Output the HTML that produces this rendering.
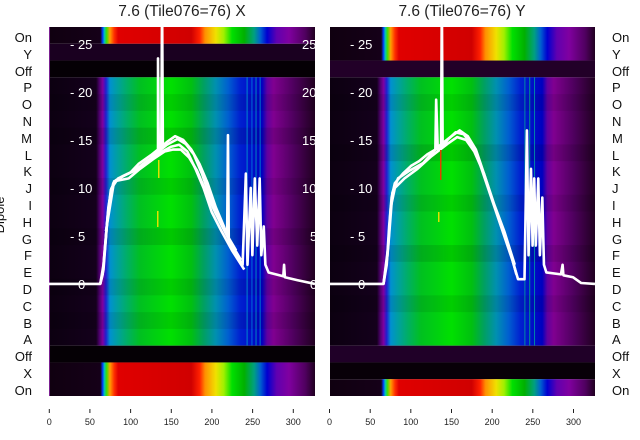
<!DOCTYPE html>
<html><head><meta charset="utf-8"><style>
html,body{margin:0;padding:0;background:#fff;width:640px;height:440px;overflow:hidden;font-family:"Liberation Sans","DejaVu Sans",sans-serif}
</style></head><body>
<svg width="640" height="440" viewBox="0 0 640 440" xmlns="http://www.w3.org/2000/svg" style="position:absolute;left:0;top:0">
<defs>
<linearGradient id="gL" x1="0" x2="327" y1="0" y2="0" gradientUnits="userSpaceOnUse">
<stop offset="0" stop-color="#0c0010"/><stop offset="0.177" stop-color="#14001c"/><stop offset="0.190" stop-color="#500070"/><stop offset="0.202" stop-color="#8000a0"/><stop offset="0.214" stop-color="#2020d0"/><stop offset="0.229" stop-color="#0090d0"/><stop offset="0.257" stop-color="#00a0a0"/><stop offset="0.297" stop-color="#00b060"/><stop offset="0.343" stop-color="#00c020"/><stop offset="0.459" stop-color="#00e000"/><stop offset="0.535" stop-color="#00c010"/><stop offset="0.581" stop-color="#00a060"/><stop offset="0.627" stop-color="#0090b0"/><stop offset="0.673" stop-color="#0060d0"/><stop offset="0.719" stop-color="#0020d0"/><stop offset="0.801" stop-color="#0000c0"/><stop offset="0.820" stop-color="#6000a0"/><stop offset="0.844" stop-color="#800090"/><stop offset="0.917" stop-color="#500060"/><stop offset="1" stop-color="#200020"/>
</linearGradient>
<linearGradient id="rL" x1="0" x2="327" y1="0" y2="0" gradientUnits="userSpaceOnUse">
<stop offset="0" stop-color="#100010"/><stop offset="0.193" stop-color="#150018"/><stop offset="0.202" stop-color="#0040ff"/><stop offset="0.208" stop-color="#00c0c0"/><stop offset="0.217" stop-color="#40e000"/><stop offset="0.229" stop-color="#ffa000"/><stop offset="0.245" stop-color="#ff3000"/><stop offset="0.260" stop-color="#e00000"/><stop offset="0.535" stop-color="#d00000"/><stop offset="0.566" stop-color="#ff2000"/><stop offset="0.587" stop-color="#ff9000"/><stop offset="0.627" stop-color="#f0e000"/><stop offset="0.657" stop-color="#a0f000"/><stop offset="0.688" stop-color="#00e000"/><stop offset="0.734" stop-color="#00b000"/><stop offset="0.771" stop-color="#00a080"/><stop offset="0.795" stop-color="#0060d0"/><stop offset="0.820" stop-color="#0000d0"/><stop offset="0.856" stop-color="#6000b0"/><stop offset="0.902" stop-color="#8000a0"/><stop offset="0.963" stop-color="#500060"/><stop offset="1" stop-color="#200020"/>
</linearGradient>
</defs>

<text x="182" y="16" font-size="15.5" text-anchor="middle" fill="#222">7.6 (Tile076=76) X</text>
<text x="462" y="16" font-size="15.5" text-anchor="middle" fill="#222">7.6 (Tile076=76) Y</text>

<svg x="49" y="27" width="266" height="369" viewBox="0 0 327 22" preserveAspectRatio="none">
<rect x="0" y="0" width="327" height="1" fill="url(#rL)"/>
<rect x="0" y="1" width="327" height="1" fill="#1a0020"/>
<rect x="0" y="2" width="327" height="1" fill="#050005"/>
<rect x="0" y="3" width="327" height="16" fill="url(#gL)"/>
<rect x="0" y="4" width="327" height="1" fill="#000" opacity="0.08"/>
<rect x="0" y="6" width="327" height="1" fill="#000" opacity="0.1"/>
<rect x="0" y="9" width="327" height="1" fill="#000" opacity="0.08"/>
<rect x="0" y="12" width="327" height="1" fill="#000" opacity="0.1"/>
<rect x="0" y="15" width="327" height="1" fill="#000" opacity="0.08"/>
<rect x="0" y="17" width="327" height="1" fill="#000" opacity="0.08"/>
<rect x="243" y="3" width="1" height="16" fill="#00a0d0"/>
<rect x="249" y="3" width="1" height="16" fill="#0080e0"/>
<rect x="254" y="3" width="1" height="16" fill="#00a0c0"/>
<rect x="259" y="3" width="1" height="16" fill="#0090d0"/>
<rect x="0" y="19" width="327" height="1" fill="#050005"/>
<rect x="0" y="20" width="327" height="2" fill="url(#rL)"/>
</svg>
<line x1="49.5" y1="27" x2="49.5" y2="396" stroke="#7a2090" stroke-width="1"/>

<svg x="330" y="27" width="265" height="369" viewBox="0 0 327 22" preserveAspectRatio="none">
<rect x="0" y="0" width="327" height="2" fill="url(#rL)"/>
<rect x="0" y="2" width="327" height="1" fill="#220028"/>
<rect x="0" y="3" width="327" height="16" fill="url(#gL)"/>
<rect x="0" y="4" width="327" height="1" fill="#000" opacity="0.08"/>
<rect x="0" y="7" width="327" height="1" fill="#000" opacity="0.1"/>
<rect x="0" y="10" width="327" height="1" fill="#000" opacity="0.08"/>
<rect x="0" y="13" width="327" height="1" fill="#000" opacity="0.1"/>
<rect x="0" y="16" width="327" height="1" fill="#000" opacity="0.08"/>
<rect x="240" y="3" width="1" height="16" fill="#00a0a0"/>
<rect x="246" y="3" width="1" height="16" fill="#00b080"/>
<rect x="252" y="3" width="1" height="16" fill="#00a0a0"/>
<rect x="0" y="19" width="327" height="1" fill="#200028"/>
<rect x="0" y="20" width="327" height="1" fill="#080008"/>
<rect x="0" y="21" width="327" height="1" fill="url(#rL)"/>
</svg>

<svg x="49" y="27" width="266" height="369" viewBox="0 -26.77 327 38.44" preserveAspectRatio="none">
<g fill="none" stroke="#fff" stroke-width="2.6" stroke-linejoin="round">
<polyline vector-effect="non-scaling-stroke" points="0,0 63,0 66,-1 70,-5 73,-8 77,-10 85,-11 100,-11.6 110,-12.5 125,-13.4 134,-14 134,-23.5 135,-14 138,-14.3 139,-30 140,-14.4 145,-14.8 155,-15.4 165,-15 175,-14 185,-12.5 195,-10.5 205,-8 215,-6 219,-5 220,-15.5 221,-4.5 230,-3 238,-2 242,-11.5 244,-2 248,-10 250,-3 253,-11 256,-4 259,-11 261,-3 264,-6 266,-2 270,-1.2 288,-0.8 289,-2 290,-0.7 305,-0.4 327,0"/>
<polyline vector-effect="non-scaling-stroke" points="63,0 67,-2 71,-6 75,-9 79,-10.5 90,-11.2 105,-11.8 120,-12.8 135,-13.6 150,-14.3 160,-14.5 170,-13.8 180,-12 190,-10 200,-7.5 212,-5.5 225,-3.5 240,-1.5"/>
<polyline vector-effect="non-scaling-stroke" points="63,0 67,-1.5 72,-7 76,-9.8 82,-10.8 95,-11.4 115,-12.2 130,-13.5 145,-14.5 158,-15.1 168,-14.6 178,-13.5 188,-11.5 198,-9 210,-6.5 222,-4.5 236,-2.5"/>
<polyline vector-effect="non-scaling-stroke" points="70,-5.5 80,-10.7 98,-11 112,-12 128,-13 142,-13.8 152,-14 162,-14 172,-13.2 182,-11.8 192,-9.8 204,-7.5 216,-5.5 230,-3.5"/>
</g>
</svg>

<svg x="330" y="27" width="265" height="369" viewBox="0 -26.77 327 38.44" preserveAspectRatio="none">
<g fill="none" stroke="#fff" stroke-width="2.6" stroke-linejoin="round">
<polyline vector-effect="non-scaling-stroke" points="0,0 66,0 70,-2 73,-6 76,-9 80,-10.5 90,-11.5 100,-12.3 110,-12.8 120,-13.5 130,-14 131,-19.2 133,-14 137,-14.2 138,-30 139,-14.3 145,-15 155,-15.8 165,-15.6 175,-14.5 185,-12.5 195,-10 205,-7.5 215,-5 225,-2.5 232,-0.5 240,-0.5 243,-16 245,-3 248,-12 250,-4 252,-11 254,-4 257,-11 259,-3 262,-9 264,-2 267,-1.2 285,-1 287,-2 288,-0.9 300,-0.7 310,-0.1 327,0"/>
<polyline vector-effect="non-scaling-stroke" points="66,0 71,-3 75,-8 80,-10 92,-11 108,-12 125,-13.3 145,-14.6 157,-15.3 168,-15 178,-13.8 190,-11.5 200,-8.8 212,-6 222,-3.5 230,-1"/>
<polyline vector-effect="non-scaling-stroke" points="66,0 72,-4 77,-9.5 84,-11 98,-11.8 115,-12.6 132,-14.2 150,-15.4 160,-16 170,-15.4 180,-14 192,-11 203,-8.2 215,-5.5 228,-2"/>
</g>
</svg>

<rect x="158" y="160" width="1.5" height="18" fill="#e0e000"/>
<rect x="157" y="211" width="1.5" height="16" fill="#e0e000"/>
<rect x="440" y="150" width="1.5" height="30" fill="#e04000"/>
<rect x="438" y="212" width="1.5" height="10" fill="#e0e000"/>

<g fill="#fff" font-size="13">
<text x="70" y="49">- 25</text><text x="70" y="97">- 20</text><text x="70" y="145">- 15</text><text x="70" y="193">- 10</text><text x="70" y="241">- 5</text><text x="78" y="289">0</text>
<text x="350" y="49">- 25</text><text x="350" y="97">- 20</text><text x="350" y="145">- 15</text><text x="350" y="193">- 10</text><text x="350" y="241">- 5</text><text x="358" y="289">0</text>
</g>
<svg x="300" y="27" width="15" height="369">
<g fill="#fff" font-size="13">
<text x="2" y="22">25</text><text x="2" y="70">20</text><text x="2" y="118">15</text><text x="2" y="166">10</text><text x="10" y="214">5</text><text x="10" y="262">0</text>
</g>
</svg>

<g font-size="13" fill="#111">
<g text-anchor="end">
<text x="32" y="42">On</text><text x="32" y="59">Y</text><text x="32" y="76">Off</text><text x="32" y="92">P</text><text x="32" y="109">O</text><text x="32" y="126">N</text><text x="32" y="143">M</text><text x="32" y="160">L</text><text x="32" y="176">K</text><text x="32" y="193">J</text><text x="32" y="210">I</text><text x="32" y="227">H</text><text x="32" y="244">G</text><text x="32" y="260">F</text><text x="32" y="277">E</text><text x="32" y="294">D</text><text x="32" y="311">C</text><text x="32" y="328">B</text><text x="32" y="344">A</text><text x="32" y="361">Off</text><text x="32" y="378">X</text><text x="32" y="395">On</text>
</g>
<g>
<text x="612" y="42">On</text><text x="612" y="59">Y</text><text x="612" y="76">Off</text><text x="612" y="92">P</text><text x="612" y="109">O</text><text x="612" y="126">N</text><text x="612" y="143">M</text><text x="612" y="160">L</text><text x="612" y="176">K</text><text x="612" y="193">J</text><text x="612" y="210">I</text><text x="612" y="227">H</text><text x="612" y="244">G</text><text x="612" y="260">F</text><text x="612" y="277">E</text><text x="612" y="294">D</text><text x="612" y="311">C</text><text x="612" y="328">B</text><text x="612" y="344">A</text><text x="612" y="361">Off</text><text x="612" y="378">X</text><text x="612" y="395">On</text>
</g>
<text x="0" y="0" transform="translate(4,215) rotate(-90)" text-anchor="middle" font-size="13">Dipole</text>
</g>

<g stroke="#222" stroke-width="1">
<line x1="49.3" y1="409" x2="49.3" y2="413"/><line x1="89.9" y1="409" x2="89.9" y2="413"/><line x1="130.6" y1="409" x2="130.6" y2="413"/><line x1="171.3" y1="409" x2="171.3" y2="413"/><line x1="211.9" y1="409" x2="211.9" y2="413"/><line x1="252.6" y1="409" x2="252.6" y2="413"/><line x1="293.3" y1="409" x2="293.3" y2="413"/>
<line x1="329.5" y1="409" x2="329.5" y2="413"/><line x1="370.2" y1="409" x2="370.2" y2="413"/><line x1="410.8" y1="409" x2="410.8" y2="413"/><line x1="451.5" y1="409" x2="451.5" y2="413"/><line x1="492.2" y1="409" x2="492.2" y2="413"/><line x1="532.8" y1="409" x2="532.8" y2="413"/><line x1="573.5" y1="409" x2="573.5" y2="413"/>
</g>
<g font-size="9" fill="#222" text-anchor="middle">
<text x="49.3" y="425">0</text><text x="89.9" y="425">50</text><text x="130.6" y="425">100</text><text x="171.3" y="425">150</text><text x="211.9" y="425">200</text><text x="252.6" y="425">250</text><text x="293.3" y="425">300</text>
<text x="329.5" y="425">0</text><text x="370.2" y="425">50</text><text x="410.8" y="425">100</text><text x="451.5" y="425">150</text><text x="492.2" y="425">200</text><text x="532.8" y="425">250</text><text x="573.5" y="425">300</text>
</g>
</svg>
</body></html>
